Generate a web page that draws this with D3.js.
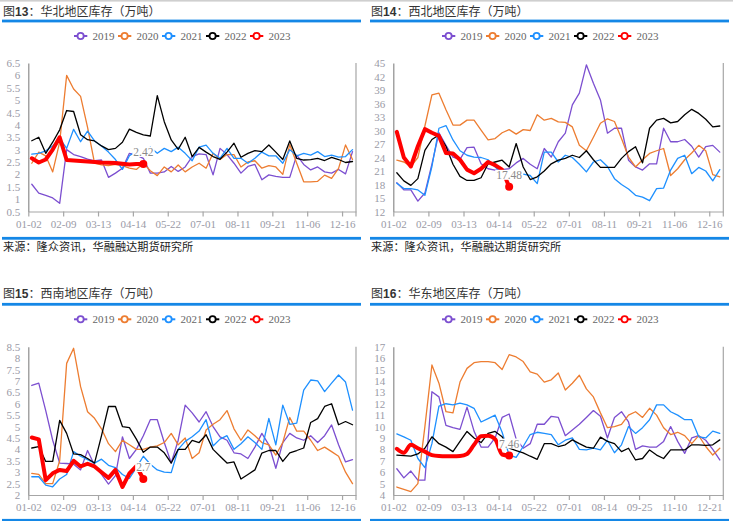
<!DOCTYPE html>
<html><head><meta charset="utf-8">
<script src="https://cdn.jsdelivr.net/npm/d3@7/dist/d3.min.js"></script>
<style>body{margin:0;background:#fff}svg{display:block}</style>
</head><body>
<svg id="chart" width="733" height="521"></svg>
<script>
// ---------- data ----------
const years = ['2019','2020','2021','2022','2023'];
const colors = ['#7c4fd0','#ed7d31','#1e90ff','#000000','#ff0000'];
const ticksA = ['01-02','02-09','03-13','04-14','05-22','07-01','08-11','09-21','11-06','12-16'];
const ticksB = ['01-02','02-09','03-13','04-14','05-22','07-01','08-14','09-25','11-10','12-21'];

// 华北
const north2019 = [1.6,1.24,1.15,1.05,0.83,3.0,2.8,2.72,2.62,2.55,2.58,1.88,2.05,2.25,2.85,2.78,2.65,2.05,2.05,2.1,2.32,2.12,2.3,2.72,2.83,2.8,1.98,3.05,2.8,2.45,2.05,2.32,2.4,1.78,1.98,1.92,1.88,1.88,2.78,2.4,2.18,2.3,2.1,2.05,2.2,2.02,2.92];
const north2020 = [2.45,2.9,2.75,2.1,3.3,6.0,5.45,5.15,3.9,2.45,2.38,2.35,2.4,2.35,2.25,2.2,2.45,2.15,1.95,2.3,2.1,2.38,2.1,2.3,2.45,2.25,2.85,2.6,2.8,2.8,2.3,2.5,2.55,2.25,2.35,2.3,2.0,3.2,2.45,1.7,1.7,1.72,1.97,1.84,2.24,3.19,2.6];
const north2021 = [2.82,2.85,2.95,3.15,3.45,3.05,3.82,3.32,3.75,3.35,3.15,2.9,2.6,2.2,2.75,2.95,2.85,3.1,2.85,3.05,2.92,3.1,2.85,2.55,3.1,3.18,2.85,2.65,3.05,2.65,2.65,2.45,2.65,2.9,2.75,2.75,2.45,3.0,2.75,2.85,2.78,2.92,2.72,2.78,2.7,2.72,3.0];
const north2022 = [3.36,3.5,2.85,3.3,3.8,4.58,4.54,3.6,3.4,3.35,3.15,3.0,3.05,3.3,3.83,3.7,3.6,3.55,5.18,4.13,3.39,3.01,3.5,2.72,3.09,2.9,2.72,2.61,2.9,3.26,2.69,2.85,2.96,2.92,3.19,2.9,2.6,3.35,2.65,2.58,2.6,2.65,2.56,2.69,2.6,2.48,2.52];
const north2023 = [2.65,2.48,2.6,3.0,3.5,2.58,2.56,2.54,2.52,2.5,2.48,2.47,2.46,2.43,2.4,2.42,2.42];

// 西北
const nw2019 = [18.4,16.8,16.8,14.3,16.1,22.5,29.5,26.7,24.1,23.6,26.2,26.3,22.6,21.5,21.2,21.3,21.5,22.8,23.8,22.5,21.5,26.0,24.1,27.5,29.4,35.7,38.3,44.6,40.5,36.8,29.4,30.5,30.5,23.4,21.9,21.2,22.6,22.6,30.5,27.5,27.5,28.0,26.5,24.1,26.4,26.7,25.2];
const nw2020 = [23.4,23.0,22.0,24.0,31.0,37.9,38.3,34.6,31.2,31.2,32.3,32.3,30.1,27.9,28.2,29.5,30.2,29.2,30.2,30.0,33.5,32.3,32.7,31.9,31.8,30.8,26.7,25.5,28.5,31.6,32.6,32.0,28.2,24.1,21.9,23.5,24.9,25.5,26.0,20.0,21.5,23.5,25.0,26.7,25.5,20.2,19.7];
const nw2021 = [18.3,17.1,17.1,16.8,15.6,22,30.5,31.1,27.9,25.5,24.5,24.1,24.0,23.5,21.9,20.5,19.7,20.0,20.3,20.0,18.2,25.2,25.2,23.0,24.5,24.0,22.5,20.8,23.0,23.5,22.0,19.3,18.0,17.0,15.6,15.2,14.4,17.1,17.2,21.2,23.8,24.5,20.4,21.8,21.0,18.8,21.3];
const nw2022 = [20.6,18.8,17.8,19.3,25.6,28.0,29.0,26.5,22.5,19.8,18.9,18.9,19.5,22.6,23.0,23.4,21.9,27.1,21.9,19.1,19.7,21.0,22.6,23.4,23.8,24.5,24.0,25.5,23.5,21.8,21.8,21.8,23.8,25.3,26.4,22.8,30.5,32.3,32.7,31.7,32.0,33.5,34.7,33.8,32.5,30.8,31.0];
const nw2023 = [29.7,24.0,22.0,26.5,30.3,29.5,28.8,25.0,24.9,23.5,21.3,20.5,21.5,23.0,22.3,21.3,17.48];

// 西南
const sw2019 = [6.8,6.9,5.7,4.4,3.4,3.38,3.35,3.1,3.95,3.3,2.9,2.48,2.85,4.55,3.6,4.0,4.6,5.3,5.3,4.3,3.4,4.4,5.94,5.6,5.2,5.65,5.0,4.55,4.4,3.85,3.8,3.6,4.1,4.7,4.2,3.17,4.3,4.7,4.5,4.4,4.6,4.3,4.6,5.07,4.2,3.45,3.55];
const sw2020 = [2.95,2.9,2.5,2.5,3.5,7.77,8.43,6.75,5.65,5.36,4.9,4.25,3.9,4.4,4.2,4.0,4.0,4.1,4.15,4.3,4.7,4.2,4.5,3.6,3.85,4.85,5.1,5.3,5.7,4.9,4.4,4.85,4.6,4.3,4.2,3.75,4.3,5.4,4.8,4.8,4.4,3.95,4.1,3.9,3.7,3.0,2.5];
const sw2021 = [2.8,2.8,2.43,2.36,2.7,2.9,3.9,3.7,3.55,3.4,3.57,3.3,3.2,2.9,2.73,3.2,3.7,3.35,3.1,3.0,2.98,4.0,4.35,4.55,4.8,5.3,4.15,4.45,4.6,4.0,4.25,4.55,4.3,4.0,5.36,4.2,5.94,5.1,5.15,6.6,7.04,7.0,6.53,6.9,7.26,6.95,5.72];
const sw2022 = [4.06,4.12,3.47,3.47,5.27,4.7,3.8,3.77,3.6,3.4,4.6,5.88,5.88,5.0,4.95,4.45,3.87,4.1,4.1,3.85,3.4,4.0,4.0,4.39,4.3,4.64,4.0,3.7,3.4,3.45,2.7,2.9,3.1,3.84,3.95,3.95,3.47,3.85,3.95,4.06,5.18,5.35,5.88,6.0,5.08,5.22,5.08];
const sw2023 = [4.52,4.44,2.65,2.95,3.1,3.05,3.5,3.25,3.37,3.25,3.0,2.75,3.1,2.35,2.95,3.27,2.7];

// 华东
const east2019 = [6.3,5.5,6.1,5.3,5.3,13.05,12.6,10.1,9.9,9.75,11.7,9.6,8.2,8.2,9.0,10.8,11.1,8.9,8.1,8.5,10.2,10.2,10.9,10.8,9.2,9.7,10.2,10.8,11.4,10.9,9.0,10.8,11.3,10.4,8.0,8.3,8.2,8.2,8.7,10.0,8.7,7.65,9.0,9.2,8.8,8.0,7.07];
const east2020 = [4.7,4.5,4.3,5.0,10.0,15.4,13.8,11.3,11.2,13.9,15.1,15.6,15.7,15.7,15.6,15.0,16.3,16.1,15.7,14.8,14.6,13.9,14.1,14.7,13.2,13.8,14.5,13.3,12.6,11.2,9.9,10.0,10.2,11.0,11.3,10.8,11.6,11.0,9.9,9.3,9.5,9.2,8.5,9.2,8.25,7.5,8.1];
const east2021 = [9.35,9.1,8.8,7.2,6.4,8.5,11.8,12.0,11.9,12.05,11.9,11.6,10.4,10.7,11.0,9.5,7.5,7.3,8.25,9.3,9.5,9.4,9.3,8.4,8.8,9.0,8.0,7.95,8.1,7.95,8.8,7.7,8.4,10.0,9.4,9.9,10.6,11.9,11.9,11.3,11.0,10.6,10.6,9.1,9.0,9.6,9.4];
const east2022 = [7.5,7.45,7.4,7.6,8.1,9.1,8.5,8.2,7.8,8.7,9.57,9.0,8.6,9.4,9.57,9.1,8.1,7.9,7.7,7.4,7.13,8.5,8.5,8.25,8.4,8.83,8.5,8.2,8.1,9.07,8.7,8.5,7.8,8.1,7.07,7.2,7.95,7.5,7.2,7.95,7.95,7.95,8.4,8.4,8.35,8.4,8.83];
const east2023 = [8.05,7.7,8.4,8.1,7.8,7.5,7.42,7.4,7.4,7.42,7.6,8.4,9.15,9.2,8.9,7.55,7.46];

const titles = ['华北地区库存（万吨）','西北地区库存（万吨）','西南地区库存（万吨）','华东地区库存（万吨）'];
const figNums = ['13','14','15','16'];
const yDomains = [[0.5,6.5,0.5],[12,45,3],[2,8.5,0.5],[4,17,1]];
const endLabels = ['2.42','17.48','2.7','7.46'];
const sourceText = '来源：隆众资讯，华融融达期货研究所';

// ---------- layout ----------
const N = 47;
const rows = [
  {titleY:16, ruleY:21, legY:36, T:63, B:211.5, srcRule:238.3, srcY:250.5, showSrc:true},
  {titleY:297.5, ruleY:304.3, legY:319.3, T:346.7, B:495, srcRule:520.3, srcY:532, showSrc:false}
];
const cols = [
  {tx:3, r0:2, r1:361, lx:74, L:28.3, R:356},
  {tx:371, r0:370, r1:729, lx:442, L:393.3, R:723.3}
];
const panels = [
  {row:0,col:0,series:[north2019,north2020,north2021,north2022,north2023],ticks:ticksA,smooth:false},
  {row:0,col:1,series:[nw2019,nw2020,nw2021,nw2022,nw2023],ticks:ticksA,smooth:false},
  {row:1,col:0,series:[sw2019,sw2020,sw2021,sw2022,sw2023],ticks:ticksA,smooth:false},
  {row:1,col:1,series:[east2019,east2020,east2021,east2022,east2023],ticks:ticksB,smooth:true}
];

const svg = d3.select('#chart');
const NUMF = '"Liberation Serif", "DejaVu Serif", serif';
const CJK = '"Noto Sans CJK SC", sans-serif';
const BLUE = '#1487e6';

svg.append('rect').attr('x',0).attr('y',0).attr('width',733).attr('height',1.6).attr('fill','#cfcfcf');

panels.forEach((p,pi)=>{
  const r = rows[p.row], c = cols[p.col];
  const g = svg.append('g');
  // title
  const t = g.append('text').attr('x',c.tx).attr('y',r.titleY)
    .attr('font-family',CJK).attr('font-size',12).attr('fill','#333');
  t.append('tspan').text('图');
  t.append('tspan').attr('font-family','"Liberation Sans", Arial, sans-serif').attr('font-weight','bold').text(figNums[pi]);
  t.append('tspan').text('：'+titles[pi]);
  // rules
  g.append('rect').attr('x',c.r0).attr('y',r.ruleY-1.4).attr('width',c.r1-c.r0).attr('height',2.8).attr('fill',BLUE);
  g.append('rect').attr('x',c.r0).attr('y',r.srcRule-1.4).attr('width',c.r1-c.r0).attr('height',2.8).attr('fill',BLUE);
  if (r.showSrc) {
    g.append('text').attr('x',c.tx).attr('y',r.srcY).attr('font-family',CJK).attr('font-size',11.2).attr('fill','#222').text(sourceText);
  }

  // legend
  years.forEach((yr,k)=>{
    const lx = c.lx + k*44;
    g.append('line').attr('x1',lx).attr('x2',lx+13.3).attr('y1',r.legY).attr('y2',r.legY)
      .attr('stroke',colors[k]).attr('stroke-width',2);
    g.append('circle').attr('cx',lx+6.6).attr('cy',r.legY).attr('r',3.1)
      .attr('fill','#fff').attr('stroke',colors[k]).attr('stroke-width',1.8);
    g.append('text').attr('x',lx+18.5).attr('y',r.legY+3.8).attr('font-family',NUMF)
      .attr('font-size',11).attr('fill','#666').text(yr);
  });

  // scales
  const [y0,y1,ys] = yDomains[pi];
  const x = d3.scaleLinear().domain([-0.5, N-0.5]).range([c.L, c.R]);
  const y = d3.scaleLinear().domain([y0,y1]).range([r.B, r.T]);
  const yTicks = d3.range(y0, y1+ys/2, ys).map(v=>+v.toFixed(2));

  // y axis
  const ya = g.append('g').attr('transform',`translate(${c.L},0)`)
    .call(d3.axisLeft(y).tickValues(yTicks).tickSize(0).tickPadding(8).tickFormat(d=>String(d)));
  ya.select('.domain').attr('stroke','#8c8c8c').attr('stroke-width',1.2);
  ya.selectAll('text').attr('font-family',NUMF).attr('font-size',11).attr('fill','#9a9aa6');

  // x axis
  const tickIdx = p.ticks.map((_,k)=>k*5-0.5);
  const xa = g.append('g').attr('transform',`translate(0,${r.B})`)
    .call(d3.axisBottom(x).tickValues(tickIdx).tickSize(5).tickPadding(3.5)
      .tickFormat((d,k)=>p.ticks[k]).tickSizeOuter(0));
  xa.select('.domain').attr('stroke','#a6a6a6').attr('stroke-width',1.2);
  xa.selectAll('.tick line').attr('stroke','#a6a6a6').attr('stroke-width',1.2);
  xa.selectAll('text').attr('font-family',NUMF).attr('font-size',11).attr('fill','#9a9aa6');
  // end tick & right border
  g.append('line').attr('x1',c.R).attr('x2',c.R).attr('y1',r.T).attr('y2',r.B+5)
    .attr('stroke','#a6a6a6').attr('stroke-width',1.2);

  // lines
  p.series.forEach((vals,k)=>{
    const isRed = k===4;
    const line = d3.line().x((d,i)=>x(i)).y(d=>y(d))
      .curve(isRed && p.smooth ? d3.curveMonotoneX : d3.curveLinear);
    g.append('path').datum(vals).attr('d',line).attr('fill','none')
      .attr('stroke',colors[k]).attr('stroke-width',isRed?4:1.3)
      .attr('stroke-linejoin','round').attr('stroke-linecap','round');
  });

  // end marker + label
  const red = p.series[4];
  const li = red.length-1;
  const ex = x(li), ey = y(red[li]);
  g.append('circle').attr('cx',ex).attr('cy',ey).attr('r',4).attr('fill','#ff0000');
  const lab = endLabels[pi];
  const lt = g.append('text').attr('x',ex).attr('y',ey-8).attr('text-anchor','middle')
    .attr('font-family',NUMF).attr('font-size',11.5).attr('fill','#8a8a8a').text(lab);
  const bb = lt.node().getBBox();
  g.insert('rect', () => lt.node()).attr('x',bb.x-1).attr('y',bb.y+1).attr('width',bb.width+2).attr('height',bb.height-2).attr('fill','#fff');
});
</script>
</body></html>
